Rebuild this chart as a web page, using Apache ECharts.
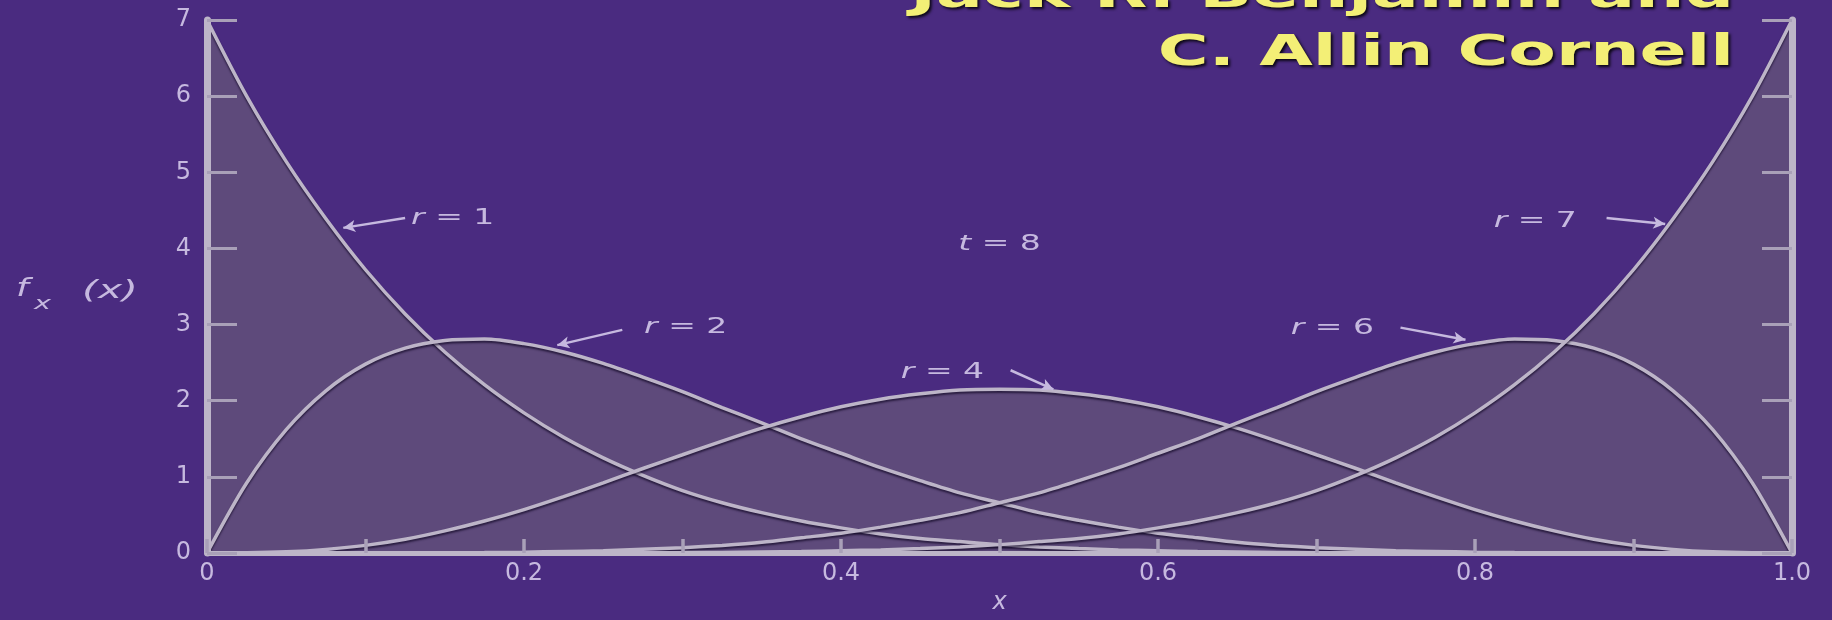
<!DOCTYPE html>
<html>
<head>
<meta charset="utf-8">
<script src="https://cdn.jsdelivr.net/npm/echarts@6/dist/echarts.min.js"></script>
<style>
html,body{margin:0;padding:0;background:#4a2b80;}
#chart{width:1832px;height:620px;}
</style>
</head>
<body>
<div id="chart"></div>
<script>
// x positions read along the axis (every 0.025)
const xs = [0,0.025,0.05,0.075,0.1,0.125,0.15,0.175,0.2,0.225,0.25,0.275,0.3,0.325,0.35,0.375,0.4,0.425,0.45,0.475,0.5,
            0.525,0.55,0.575,0.6,0.625,0.65,0.675,0.7,0.725,0.75,0.775,0.8,0.825,0.85,0.875,0.9,0.925,0.95,0.975,1.0];
// density values (t = 8)
const r1 = [7.0,6.0,5.14,4.39,3.72,3.14,2.64,2.21,1.84,1.52,1.25,1.02,0.82,0.66,0.53,0.42,0.33,0.25,0.19,0.15,0.11,
            0.08,0.058,0.041,0.029,0.019,0.013,0.008,0.005,0.003,0.002,0.001,0,0,0,0,0,0,0,0,0];
const r2 = [0,0.92,1.62,2.13,2.48,2.69,2.79,2.81,2.75,2.64,2.49,2.31,2.12,1.91,1.71,1.5,1.31,1.12,0.95,0.79,0.66,
            0.53,0.43,0.34,0.26,0.2,0.14,0.1,0.07,0.05,0.03,0.02,0.011,0.006,0.003,0.001,0,0,0,0,0];
const r4 = [0,0.002,0.015,0.047,0.1,0.18,0.29,0.42,0.57,0.74,0.92,1.11,1.29,1.47,1.64,1.79,1.92,2.02,2.09,2.14,2.15,
            2.14,2.09,2.02,1.92,1.79,1.64,1.47,1.29,1.11,0.92,0.74,0.57,0.42,0.29,0.18,0.1,0.047,0.015,0.002,0];
const r6 = [0,0,0,0,0,0.001,0.003,0.006,0.011,0.02,0.03,0.05,0.07,0.1,0.14,0.2,0.26,0.34,0.43,0.53,0.66,
            0.79,0.95,1.12,1.31,1.5,1.71,1.91,2.12,2.31,2.49,2.64,2.75,2.81,2.79,2.69,2.48,2.13,1.62,0.92,0];
const r7 = [0,0,0,0,0,0,0,0,0,0.001,0.002,0.003,0.005,0.008,0.013,0.019,0.029,0.041,0.058,0.08,0.11,
            0.15,0.19,0.25,0.33,0.42,0.53,0.66,0.82,1.02,1.25,1.52,1.84,2.21,2.64,3.14,3.72,4.39,5.14,6.0,7.0];
const curves = [r1, r2, r4, r6, r7];
const curveNames = ['r = 1','r = 2','r = 4','r = 6','r = 7'];
const yTicks = [0,1,2,3,4,5,6,7];
// annotation labels: [rich text, x, y]
const notes = [
  ['{i|r} = 1', 0.155, 4.40],
  ['{i|r} = 2', 0.302, 2.96],
  ['{i|t} = 8', 0.50, 4.06],
  ['{i|r} = 4', 0.464, 2.37],
  ['{i|r} = 6', 0.71, 2.95],
  ['{i|r} = 7', 0.838, 4.36]
];
// arrows: [x0, y0, x1, y1]
const arrows = [
  [0.125, 4.40, 0.086, 4.27],
  [0.262, 2.93, 0.221, 2.73],
  [0.507, 2.40, 0.534, 2.15],
  [0.753, 2.96, 0.794, 2.80],
  [0.883, 4.40, 0.92, 4.32]
];
const titleLines = ['Jack R. Benjamin and', 'C. Allin Cornell'];

const LINE = '#bdb5c8';
const FILL = '#5e4a7b';
const LABEL = '#c6b9df';

const chart = echarts.init(document.getElementById('chart'));

const series = [];
curves.forEach((vals, k) => {
  const data = xs.map((x, i) => [x, vals[i]]);
  series.push({
    name: curveNames[k] + ' area', type: 'line', data: data, smooth: 0.3,
    showSymbol: false, symbol: 'none', z: 1, silent: true,
    lineStyle: { width: 0 },
    areaStyle: { color: FILL, opacity: 1 }
  });
});
curves.forEach((vals, k) => {
  const data = xs.map((x, i) => [x, vals[i]]);
  const s = {
    name: curveNames[k], type: 'line', data: data, smooth: 0.3,
    showSymbol: false, symbol: 'none', z: 3, silent: true,
    lineStyle: { color: LINE, width: 3.5, shadowColor: 'rgba(20,10,40,0.7)', shadowBlur: 2, shadowOffsetY: 2 }
  };
  if (k === 0) {
    s.markLine = {
      silent: true, symbol: ['none', 'arrow'], symbolSize: [9, 12],
      label: { show: false },
      lineStyle: { color: LABEL, width: 2.5, type: 'solid', curveness: 0.12 },
      data: arrows.map(a => [{ coord: [a[0], a[1]] }, { coord: [a[2], a[3]] }])
    };
  }
  series.push(s);
});

const option = {
  backgroundColor: '#4a2b80',
  animation: false,
  grid: { left: 207, right: 40, top: 20, bottom: 47 },
  xAxis: {
    type: 'value', min: 0, max: 1, interval: 0.1, z: 10,
    name: 'x', nameLocation: 'middle', nameGap: 38,
    nameTextStyle: { color: LABEL, fontSize: 24, fontStyle: 'italic', fontFamily: 'DejaVu Sans' },
    axisLine: { lineStyle: { color: LINE, width: 5 } },
    axisTick: { inside: true, length: 14, lineStyle: { color: '#a9a0b8', width: 3.5 } },
    axisLabel: {
      color: LABEL, fontSize: 24, fontFamily: 'DejaVu Sans', margin: 9,
      formatter: v => {
        const t = Math.round(v * 10);
        if (t % 2 !== 0) return '';
        return t === 0 ? '0' : (t / 10).toFixed(1);
      }
    },
    splitLine: { show: false }
  },
  yAxis: [{
    type: 'value', min: 0, max: 7, interval: 1, z: 10,
    axisLine: { show: true, lineStyle: { color: LINE, width: 7 } },
    axisTick: { show: true, inside: true, length: 30, lineStyle: { color: '#a9a0b8', width: 3 } },
    axisLabel: { color: LABEL, fontSize: 24, fontFamily: 'DejaVu Sans', margin: 16,
      formatter: v => yTicks.indexOf(v) >= 0 ? String(v) : '' },
    splitLine: { show: false }
  }, {
    type: 'value', min: 0, max: 7, interval: 1, position: 'right', z: 10,
    axisLine: { show: true, lineStyle: { color: LINE, width: 7 } },
    axisTick: { show: true, inside: true, length: 30, lineStyle: { color: '#a9a0b8', width: 3 } },
    axisLabel: { show: false },
    splitLine: { show: false }
  }],
  series: series
};
chart.setOption(option);

// text overlays placed through the chart's own coordinate system
const graphics = [];
notes.forEach(n => {
  const p = chart.convertToPixel({ gridIndex: 0 }, [n[1], n[2]]);
  graphics.push({
    type: 'text', x: p[0], y: p[1], scaleX: 1.5, z: 20, silent: true,
    style: {
      text: n[0], fill: LABEL, font: '22px "DejaVu Sans"', align: 'center', verticalAlign: 'middle',
      rich: { i: { fontStyle: 'italic', fontSize: 22, fill: LABEL, fontFamily: 'DejaVu Sans' } }
    }
  });
});
// y axis name f_x(x)
graphics.push({ type: 'text', x: 16, y: 290, scaleX: 1.5, silent: true,
  style: { text: 'f', fill: LABEL, font: 'italic 24px "DejaVu Sans"', verticalAlign: 'middle' } });
graphics.push({ type: 'text', x: 34, y: 304, scaleX: 1.6, silent: true,
  style: { text: 'x', fill: LABEL, font: 'italic 18px "DejaVu Sans"', verticalAlign: 'middle' } });
graphics.push({ type: 'text', x: 82, y: 292, scaleX: 1.7, silent: true,
  style: { text: '(x)', fill: LABEL, font: 'italic 24px "DejaVu Sans"', verticalAlign: 'middle' } });
// title lines (top right)
titleLines.forEach((t, i) => {
  graphics.push({
    type: 'text', x: 1734, y: i === 0 ? -4 : 54, scaleX: 1.65, z: 30, silent: true,
    style: {
      text: t, fill: '#f3ef76', font: 'bold 42px "DejaVu Sans"', align: 'right', verticalAlign: 'middle',
      textShadowColor: 'rgba(0,0,0,0.85)', textShadowBlur: 3, textShadowOffsetX: 2, textShadowOffsetY: 2
    }
  });
});
chart.setOption({ graphic: graphics });
</script>
</body>
</html>
